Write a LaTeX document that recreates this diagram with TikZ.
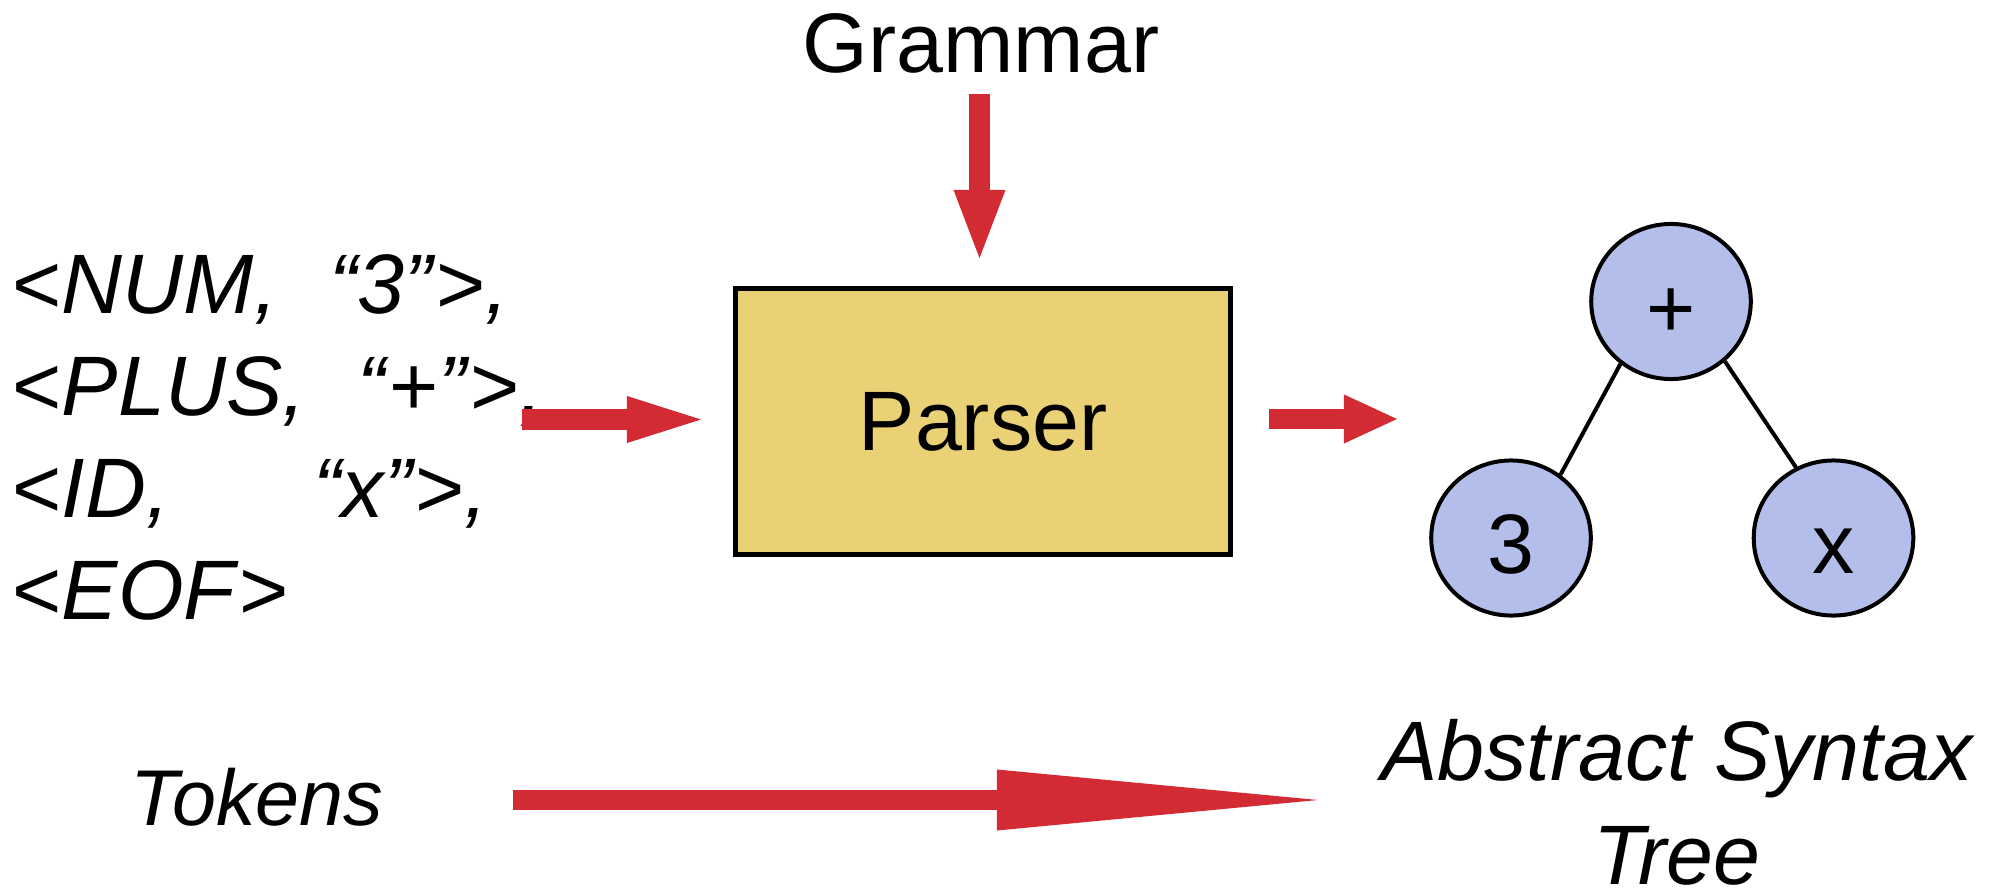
\documentclass[tikz,border=0pt]{standalone}
\usepackage{fontspec}
\setmainfont{Liberation Sans}
\usetikzlibrary{arrows.meta,shapes.geometric}
\definecolor{parserfill}{RGB}{235,209,118}
\definecolor{astfill}{RGB}{180,190,235}
\definecolor{flowred}{RGB}{210,43,52}
\begin{document}
\begin{tikzpicture}[x=0.01cm,y=-0.01cm,
  bigtext/.style={font=\fontsize{24}{29}\selectfont, inner sep=0pt},
  tokline/.style={bigtext, anchor=base west},
  caption/.style={font=\fontsize{24}{29.3}\selectfont\itshape, inner sep=0pt},
  parserbox/.style={draw=black, fill=parserfill, line width=0.05cm,
    minimum width=4.95cm, minimum height=2.66cm, bigtext},
  astnode/.style={ellipse, draw=black, fill=astfill, line width=0.04cm,
    minimum width=1.595cm, minimum height=1.55cm, inner sep=0pt, bigtext,
    text height=0.71cm, text depth=0cm},
  treeedge/.style={draw=black, line width=0.04cm},
  flow/.style={draw=flowred, line cap=butt}
]
\useasboundingbox (0,0) rectangle (1997,891);

% token stream
\node[tokline] (tok1) at (12,313) {\makebox[3.17cm][l]{<\textit{NUM,}}\textit{“3”}>\textit{,}};
\node[tokline] (tok2) at (12,415) {\makebox[3.45cm][l]{<\textit{PLUS,}}\textit{“}+\textit{”}>\textit{,}};
\node[tokline] (tok3) at (12,517) {\makebox[3.01cm][l]{<\textit{ID,}}\textit{“x”}>\textit{,}};
\node[tokline] (tok4) at (12,619) {<\textit{EOF}>};

% grammar and parser
\node[bigtext, anchor=base] (grammar) at (981,73) {Grammar};
\node[parserbox] (parser) at (983,421.5) {Parser};

% abstract syntax tree
\node[astnode] (plus)  at (1671,301.5) {+};
\node[astnode] (three) at (1511,538) {3};
\node[astnode] (ex)    at (1833.5,538) {x};
\draw[treeedge] (plus.231) -- (three.52);
\draw[treeedge] (plus.312) -- (ex.118);

% bottom captions
\node[caption, font=\fontsize{22.5}{29.3}\selectfont\itshape, anchor=base] (tokcap) at (257,825) {Tokens};
\node[caption, anchor=base, align=center] (astcap) at (1677,884) {Abstract Syntax\\Tree};

% arrow end points
\coordinate (tokA) at (522,419.5);
\coordinate (tokB) at (701,419.5);
\coordinate (gramA) at (979.5,94);
\coordinate (gramB) at (979.5,258);
\coordinate (astA) at (1269,419);
\coordinate (astB) at (1397,419);
\coordinate (capA) at (513,800);
\coordinate (capB) at (1318,800);

% flow arrows
\draw[flow, line width=0.20cm, -{Triangle[length=0.74cm, width=0.47cm, line width=0pt]}] (tokA) -- (tokB);
\draw[flow, line width=0.21cm, -{Triangle[length=0.68cm, width=0.52cm, line width=0pt]}] (gramA) -- (gramB);
\draw[flow, line width=0.20cm, -{Triangle[length=0.53cm, width=0.49cm, line width=0pt]}] (astA) -- (astB);
\draw[flow, line width=0.20cm, -{Triangle[length=3.21cm, width=0.61cm, line width=0pt]}] (capA) -- (capB);
\end{tikzpicture}
\end{document}
